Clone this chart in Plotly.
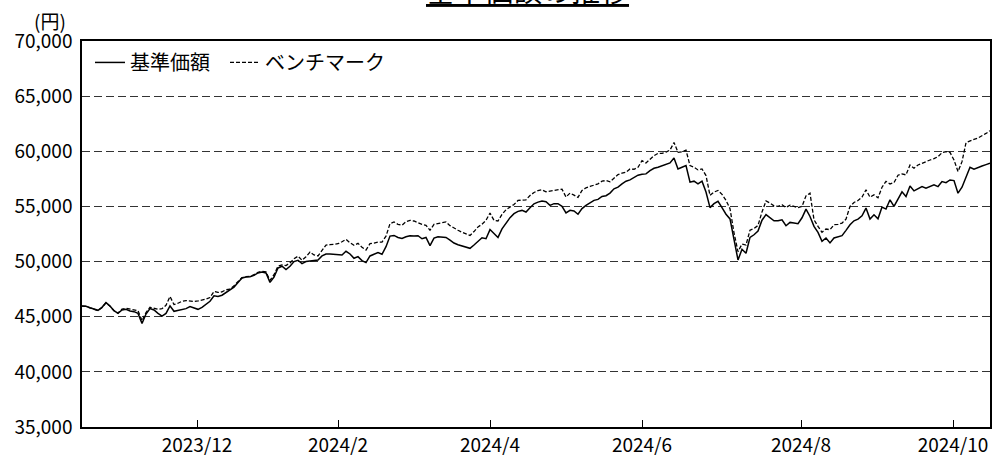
import plotly.graph_objects as go

# 基準価額 (fund NAV), one value per trading day index
nav = [45980, 45950, 45820, 45670, 45580, 45850, 46280, 45980, 45550, 45300,
       45610, 45670, 45520, 45460, 45300, 44390, 45240, 45730, 45610, 45300,
       45060, 45300, 45980, 45490, 45580, 45670, 45730, 45920, 45760, 45670,
       45850, 46160, 46400, 46890, 46830, 46950, 47200, 47440, 47680, 48110,
       48510, 48600, 48630, 48750, 48970, 49060, 48970, 48110, 48600, 49420,
       49580, 49270, 49580, 50000, 50120, 49820, 50000, 50060, 50090, 50150,
       50510, 50690, 50690, 50660, 50630, 50600, 50930, 50690, 50300, 50450,
       50090, 49910, 50510, 50630, 50810, 50660, 51350, 52310, 52370, 52190,
       52100, 52250, 52340, 52310, 52340, 52070, 52190, 51440, 52130, 52250,
       52220, 52190, 51950, 51680, 51530, 51410, 51290, 51200, 51500, 51830,
       52160, 52070, 52900, 52540, 52190, 52960, 53500, 53980, 54340, 54550,
       54640, 54490, 54880, 55240, 55390, 55490, 55430, 55100, 55250, 55250,
       55010, 54410, 54650, 54590, 54290, 54800, 55100, 55340, 55550, 55640,
       55910, 55970, 56210, 56600, 56750, 57050, 57290, 57410, 57590, 57830,
       57920, 57950, 58250, 58460, 58550, 58700, 58850, 58940, 59390, 58400,
       58550, 58700, 57200, 57290, 57050, 57290, 56300, 54890, 55250, 55460,
       54890, 54290, 53870, 51950, 50150, 51110, 50750, 52190, 52430, 52760,
       53750, 54260, 53940, 53700, 53700, 53790, 53250, 53550, 53490, 53430,
       53970, 54760, 54090, 53190, 52650, 51840, 52140, 51690, 52140, 52230,
       52350, 52830, 53340, 53700, 53850, 54150, 54850, 53850, 54240, 53880,
       54940, 54760, 55600, 55000, 55660, 56320, 55900, 56860, 56410, 56590,
       56800, 56650, 56800, 56950, 56800, 57250, 57160, 57400, 57340, 56200,
       56740, 57710, 58550, 58370, 58550, 58670, 58790, 58910]

# ベンチマーク (benchmark)
bench = [45960, 45930, 45800, 45650, 45560, 45840, 46250, 45960, 45540, 45330,
         45700, 45760, 45700, 45670, 45550, 44630, 45370, 45850, 45790, 45670,
         45730, 46040, 46830, 46100, 46220, 46400, 46460, 46400, 46370, 46430,
         46500, 46590, 46740, 47290, 47200, 47260, 47440, 47500, 47810, 48200,
         48540, 48630, 48660, 48810, 49030, 49120, 49060, 48300, 48810, 49580,
         49700, 49640, 49880, 50250, 50490, 50120, 50430, 50860, 50600, 50510,
         51050, 51500, 51530, 51560, 51620, 51800, 52010, 51710, 51470, 51650,
         51290, 51050, 51620, 51680, 51770, 51770, 52300, 53440, 53590, 53380,
         53290, 53620, 53740, 53680, 53500, 53380, 53290, 52840, 53380, 53440,
         53470, 53590, 53260, 53020, 52840, 52660, 52540, 52370, 52720, 53140,
         53380, 53740, 54400, 53740, 53680, 54280, 54700, 54940, 55180, 55540,
         55600, 55600, 55990, 56260, 56440, 56510, 56330, 56390, 56480, 56510,
         56570, 55850, 56210, 56030, 55820, 56450, 56690, 56810, 56930, 57050,
         57290, 57350, 57230, 57590, 57890, 58010, 58100, 58400, 58370, 58550,
         59150, 58940, 59300, 59600, 59810, 59810, 59930, 60110, 60800, 59900,
         59960, 60110, 58700, 58550, 58310, 58400, 57800, 56000, 56300, 56450,
         56090, 55550, 54800, 52610, 50900, 51590, 51500, 52850, 53000, 53270,
         54500, 55490, 55300, 55060, 55000, 55150, 54910, 55120, 55000, 54880,
         55000, 55960, 56200, 53790, 53190, 52650, 52950, 52890, 53340, 53370,
         53490, 53850, 55000, 55360, 55540, 55840, 56500, 55840, 56050, 55780,
         56740, 57280, 57040, 57160, 57830, 57950, 57860, 58760, 58460, 58760,
         58910, 59090, 59210, 59330, 59510, 59870, 59960, 59900, 59210, 58160,
         59060, 60780, 60960, 61080, 61200, 61380, 61620, 61860]

day_index = list(range(len(nav)))

# month tick labels and their positions on the trading-day index axis
tick_labels = ["2023/12", "2024/2", "2024/4", "2024/6", "2024/8", "2024/10"]
tick_index = [28.75, 64, 102, 140, 179.75, 217.75]

font_family = "Noto Sans CJK JP"

fig = go.Figure()
fig.add_trace(go.Scatter(
    x=day_index, y=nav, mode="lines", name="基準価額", legend="legend",
    line=dict(color="#000000", width=1.5)))
fig.add_trace(go.Scatter(
    x=day_index, y=bench, mode="lines", name="ベンチマーク", legend="legend2",
    line=dict(color="#000000", width=1.3, dash="4px,2px")))

legend_style = dict(orientation="h", y=0.995, xanchor="left", yanchor="top",
                    bgcolor="rgba(0,0,0,0)", font=dict(size=20), itemwidth=30)

fig.update_layout(
    width=992, height=455,
    margin=dict(l=82, r=2, t=41, b=28),
    paper_bgcolor="white", plot_bgcolor="white",
    font=dict(family=font_family, size=19, color="#000000"),
    showlegend=True,
    legend=dict(x=0.0088, **legend_style),
    legend2=dict(x=0.1575, **legend_style),
    xaxis=dict(range=[0, len(nav) - 1], tickvals=tick_index, ticktext=tick_labels,
               ticks="inside", ticklen=7, tickcolor="#000", tickwidth=1.2,
               showline=True, linecolor="#000", linewidth=1.5, mirror=True,
               showgrid=False, zeroline=False, tickfont=dict(size=19),
               automargin=False),
    yaxis=dict(range=[35000, 70000], dtick=5000, tickformat=",",
               showline=True, linecolor="#000", linewidth=1.5, mirror=True,
               showgrid=True, gridcolor="#333333", gridwidth=1.2, griddash="8px,4px",
               zeroline=False, ticks="", ticklabelstandoff=4, tickfont=dict(size=19),
               automargin=False),
    annotations=[
        dict(text="<u>基準価額の推移</u>", xref="paper", yref="paper", x=0.491, y=1,
             xanchor="center", yanchor="bottom", yshift=29, showarrow=False,
             font=dict(size=29)),
        dict(text="(円)", xref="paper", yref="paper", x=0, y=1, xanchor="right",
             yanchor="bottom", xshift=-14, yshift=5, showarrow=False,
             font=dict(size=19)),
    ],
)

fig.write_html("out.html", config={"displayModeBar": False},
               post_script="document.body.style.margin='0px';")
